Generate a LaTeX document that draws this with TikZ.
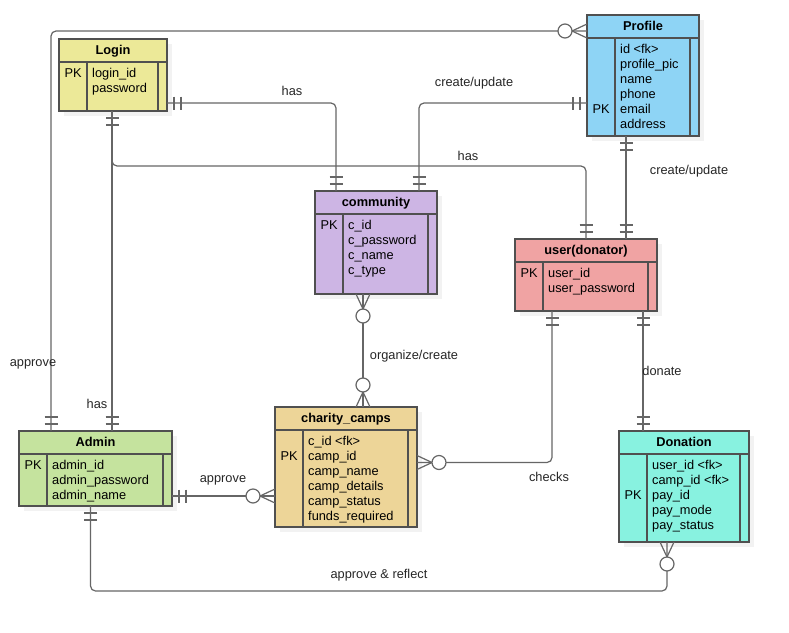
\documentclass[tikz,border=0pt]{standalone}
\usepackage{fontspec}
\setmainfont{Liberation Sans}
\usetikzlibrary{shadows}

\definecolor{loginc}{RGB}{236,233,152}
\definecolor{profilec}{RGB}{142,212,245}
\definecolor{communityc}{RGB}{205,181,228}
\definecolor{userc}{RGB}{240,163,163}
\definecolor{adminc}{RGB}{197,227,158}
\definecolor{campsc}{RGB}{237,213,152}
\definecolor{donationc}{RGB}{136,242,224}
\definecolor{boxline}{RGB}{80,80,80}
\definecolor{relline}{RGB}{102,102,102}

\newcommand{\erfont}{\fontsize{12.8}{15}\selectfont}

% one and only one
\pgfdeclarearrow{
  name = ERone,
  setup code = {
    \pgfarrowssettipend{0pt}
    \pgfarrowssetlineend{0pt}
    \pgfarrowssetbackend{-15pt}
    \pgfarrowshullpoint{0pt}{7pt}
    \pgfarrowshullpoint{0pt}{-7pt}
    \pgfarrowshullpoint{-15pt}{7pt}
    \pgfarrowshullpoint{-15pt}{-7pt}
  },
  drawing code = {
    \pgfsetdash{}{0pt}
    \pgfpathmoveto{\pgfqpoint{-7pt}{-6.5pt}}
    \pgfpathlineto{\pgfqpoint{-7pt}{6.5pt}}
    \pgfpathmoveto{\pgfqpoint{-14pt}{-6.5pt}}
    \pgfpathlineto{\pgfqpoint{-14pt}{6.5pt}}
    \pgfusepathqstroke
  }
}

% zero or many
\pgfdeclarearrow{
  name = ERmany,
  setup code = {
    \pgfarrowssettipend{0pt}
    \pgfarrowssetlineend{0pt}
    \pgfarrowssetbackend{-30pt}
    \pgfarrowshullpoint{0pt}{7pt}
    \pgfarrowshullpoint{0pt}{-7pt}
    \pgfarrowshullpoint{-30pt}{7pt}
    \pgfarrowshullpoint{-30pt}{-7pt}
  },
  drawing code = {
    \pgfsetdash{}{0pt}
    \pgfpathmoveto{\pgfqpoint{0pt}{7pt}}
    \pgfpathlineto{\pgfqpoint{-15pt}{0pt}}
    \pgfpathlineto{\pgfqpoint{0pt}{-7pt}}
    \pgfusepathqstroke
    \pgfsetfillcolor{white}
    \pgfpathcircle{\pgfqpoint{-22pt}{0pt}}{7pt}
    \pgfusepathqfillstroke
  }
}

\begin{document}
\begin{tikzpicture}[x=1pt, y=-1pt,
    entity/.style={draw=boxline, line width=1.2pt, anchor=north west, inner sep=0pt, outer sep=0pt,
        drop shadow={shadow xshift=5pt, shadow yshift=-5pt, opacity=0.1}},
    entline/.style={draw=boxline, line width=1.2pt},
    field/.style={font=\erfont, inner sep=0pt},
    title/.style={font=\erfont\bfseries, inner sep=0pt},
    rel/.style={draw=relline, line width=1.2pt, rounded corners=5pt},
    lbl/.style={font=\erfont, inner sep=0pt, text=black!85}]

    \useasboundingbox [fill=white] (0,0) rectangle (789,632);

    % entities
    \foreach \n/\x/\y/\w/\h/\col/\pk/\fields/\ttl in
    {
        login/59/39/108/72/loginc/1/{login\_id, password}/Login,
        profile/587/15/112/121/profilec/5/{id <fk>, profile\_pic, name, phone, email, address}/Profile,
        community/315/191/122/103/communityc/1/{c\_id, c\_password, c\_name, c\_type}/community,
        user/515/239/142/72/userc/1/{user\_id, user\_password}/user(donator),
        admin/19/431/153/75/adminc/1/{admin\_id, admin\_password, admin\_name}/Admin,
        camps/275/407/142/120/campsc/2/{c\_id <fk>, camp\_id, camp\_name, camp\_details, camp\_status, funds\_required}/charity\_camps,
        donation/619/431/130/111/donationc/3/{user\_id <fk>, camp\_id <fk>, pay\_id, pay\_mode, pay\_status}/Donation
    }
    {
        \node [entity, fill=\col, minimum width=\w, minimum height=\h] (\n) at (\x, \y) {};
        \draw [entline] ([yshift=-23pt]\n.north west) -- ([yshift=-23pt]\n.north east);
        \draw [entline] ([shift={(28pt,-23pt)}]\n.north west) -- ([xshift=28pt]\n.south west);
        \draw [entline] ([shift={(-9pt,-23pt)}]\n.north east) -- ([xshift=-9pt]\n.south east);
        \node [title, anchor=base] at ([yshift=-15.5pt]\n.north) {\ttl};
        \node [field, anchor=base west] at ([shift={(5.5pt,{-23.5pt-15pt*\pk})}]\n.north west) {PK};
        \foreach \f [count=\i] in \fields
            \node [field, anchor=base west] at ([shift={(33pt,{-23.5pt-15pt*\i})}]\n.north west) {\f};
    }

    % relations
    \draw [rel, ERmany-ERone] ([yshift=-16pt]profile.north west) -| ([xshift=32pt]admin.north west);
    \draw [rel, ERone-ERone] ([xshift=53pt]login.south west) -- ([xshift=93pt]admin.north west);
    \draw [rel, ERone-ERone] ([xshift=53pt]login.south west) -- ++(0,55) -| (user.north);
    \draw [rel, ERone-ERone] ([yshift=-64pt]login.north east) -| ([xshift=21pt]community.north west);
    \draw [rel, ERone-ERone] ([yshift=-88pt]profile.north west) -| ([xshift=104pt]community.north west);
    \draw [rel, ERone-ERone] ([xshift=39pt]profile.south west) -- ([xshift=111pt]user.north west);
    \draw [rel, ERmany-ERmany] ([xshift=48pt]community.south west) -- ([xshift=88pt]camps.north west);
    \draw [rel, ERone-ERmany] ([xshift=37pt]user.south west) |- ([yshift=-55.5pt]camps.north east);
    \draw [rel, ERone-ERone] ([xshift=128pt]user.south west) -- ([xshift=24pt]donation.north west);
    \draw [rel, ERone-ERmany] ([yshift=-65pt]admin.north east) -- ([yshift=-89pt]camps.north west);
    \draw [rel, ERone-ERmany] ([xshift=71.5pt]admin.south west) -- ++(0,85) -| ([xshift=48pt]donation.south west);

    % relation labels
    \node [lbl] (l1) at (33, 364) {approve};
    \node [lbl] (l2) at (97, 404) {has};
    \node [lbl] (l3) at (468, 156) {has};
    \node [lbl] (l4) at (292, 91) {has};
    \node [lbl] (l5) at (474, 83) {create/update};
    \node [lbl] (l6) at (689, 171) {create/update};
    \node [lbl] (l7) at (414, 356) {organize/create};
    \node [lbl] (l8) at (549, 477) {checks};
    \node [lbl] (l9) at (662, 371) {donate};
    \node [lbl] (l10) at (223, 480) {approve};
    \node [lbl] (l11) at (379, 575) {approve \& reflect};
\end{tikzpicture}
\end{document}
